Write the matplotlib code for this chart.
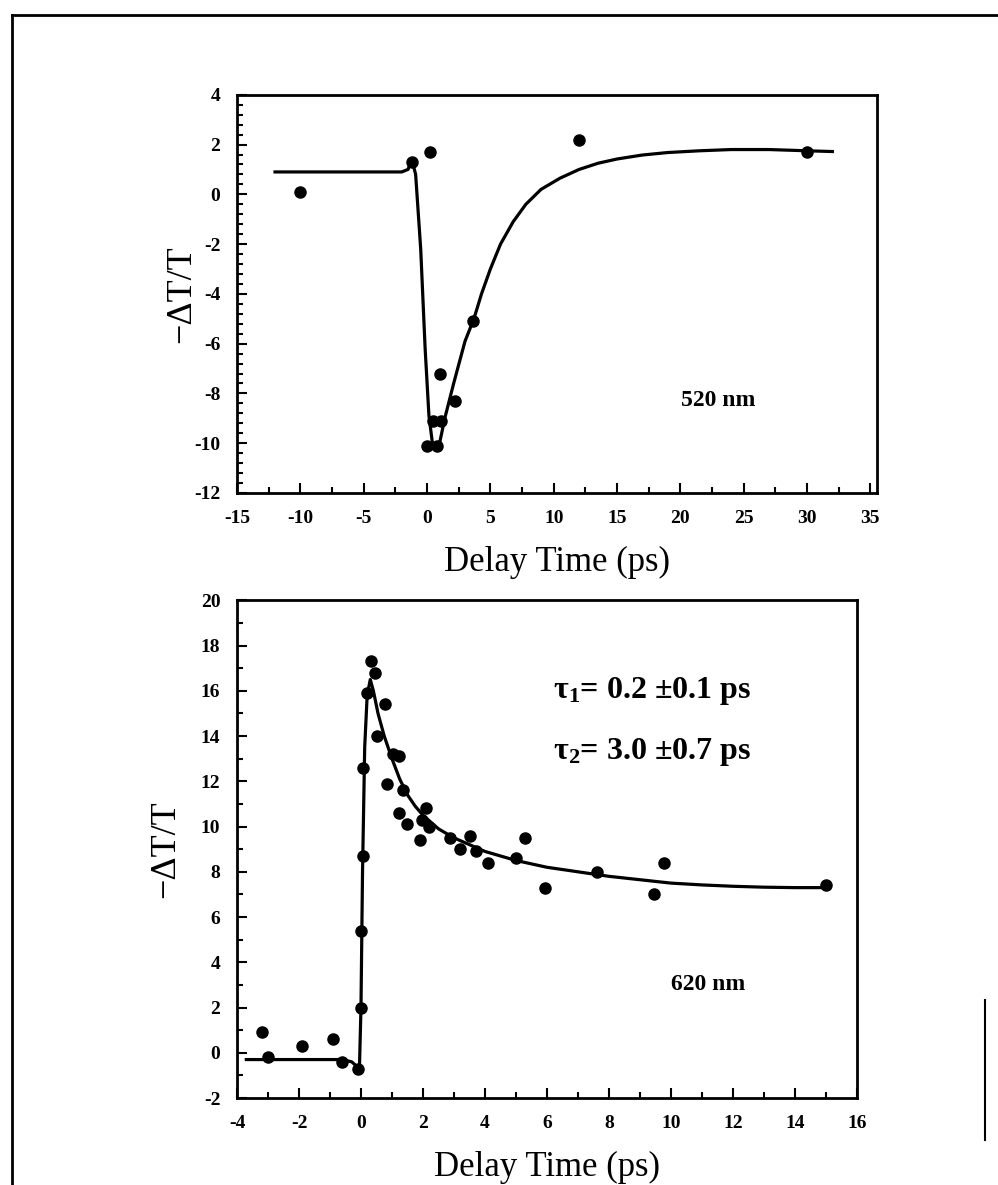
import matplotlib
matplotlib.use("Agg")
import matplotlib.pyplot as plt
from matplotlib.ticker import MultipleLocator
from matplotlib.lines import Line2D

# ---- 520 nm panel ----
pts520_x = [-10.0, -1.2, 0.2, 0.0, 0.8, 0.5, 1.1, 1.0, 2.2, 3.6, 12.0, 30.0]
pts520_y = [0.1, 1.3, 1.7, -10.1, -10.1, -9.1, -9.1, -7.2, -8.3, -5.1, 2.2, 1.7]
fit520_x = [-12.0, -2.0, -1.5, -1.2, -0.9, -0.5, -0.15, 0.15, 0.45, 0.95, 1.4, 2.1, 3.0,
            3.7, 4.3, 5.0, 5.8, 6.8, 7.8, 9.0, 10.5, 12.0, 13.5, 15.0, 17.0, 19.0,
            21.5, 24.0, 27.0, 30.0, 32.0]
fit520_y = [0.9, 0.9, 1.0, 1.4, 0.8, -2.2, -6.2, -8.9, -10.1, -10.1, -9.0, -7.6, -5.9,
            -5.0, -4.0, -3.0, -2.0, -1.1, -0.4, 0.2, 0.65, 1.0, 1.25, 1.42, 1.58, 1.68,
            1.75, 1.8, 1.8, 1.75, 1.72]

# ---- 620 nm panel ----
pts620_x = [-3.2, -3.0, -1.9, -0.9, -0.6, -0.1, 0.0, 0.0, 0.05, 0.05,
            0.33, 0.46, 0.2, 0.78, 0.52, 1.04, 1.24, 0.85, 1.37, 1.24, 2.09,
            1.5, 1.96, 2.2, 1.9, 2.87, 3.2, 3.52, 3.7, 4.1, 5.0, 5.28, 5.93,
            7.63, 9.45, 9.78, 15.0]
pts620_y = [0.9, -0.2, 0.3, 0.6, -0.4, -0.7, 2.0, 5.4, 8.7, 12.6,
            17.3, 16.8, 15.9, 15.4, 14.0, 13.2, 13.1, 11.9, 11.6, 10.6, 10.8,
            10.1, 10.3, 10.0, 9.4, 9.5, 9.0, 9.6, 8.9, 8.4, 8.6, 9.5, 7.3,
            8.0, 7.0, 8.4, 7.4]
fit620_x = [-3.7, -0.6, -0.3, -0.05, 0.0, 0.05, 0.12, 0.2, 0.3, 0.4, 0.55, 0.75, 1.0,
            1.25, 1.5, 1.75, 2.0, 2.5, 3.0, 3.5, 4.0, 5.0, 6.0, 7.0, 8.0, 9.0, 10.0,
            11.0, 12.0, 13.0, 14.0, 15.0]
fit620_y = [-0.3, -0.3, -0.4, -0.7, 2.0, 8.0, 13.5, 15.8, 16.5, 16.0, 15.0, 14.0, 13.0,
            12.1, 11.4, 10.9, 10.5, 9.9, 9.5, 9.2, 8.9, 8.5, 8.2, 8.0, 7.8, 7.65, 7.5,
            7.42, 7.36, 7.32, 7.3, 7.3]

plt.rcParams["font.family"] = ["Liberation Serif", "DejaVu Serif"]
plt.rcParams["axes.unicode_minus"] = False
plt.rcParams["mathtext.fontset"] = "custom"
plt.rcParams["mathtext.rm"] = "Liberation Serif:bold"
plt.rcParams["mathtext.it"] = "Liberation Serif:bold"
plt.rcParams["mathtext.bf"] = "Liberation Serif:bold"

fig = plt.figure(figsize=(9.98, 11.85), dpi=100)


def style(ax):
    for s in ax.spines.values():
        s.set_linewidth(2.0)
    ax.tick_params(which="both", direction="in", top=False, right=False, width=1.5)
    ax.tick_params(which="major", length=7, labelsize=14, pad=12)
    ax.tick_params(which="minor", length=4)
    for lab in ax.get_xticklabels() + ax.get_yticklabels():
        lab.set_fontweight("bold")


# top panel
ax1 = fig.add_axes([0.2375, 0.584, 0.641, 0.336])
ax1.plot(fit520_x, fit520_y, color="black", lw=2.3)
ax1.plot(pts520_x, pts520_y, "o", color="black", ms=8, ls="none")
ax1.set_xlim(-15, 35.5)
ax1.set_ylim(-12, 4)
ax1.xaxis.set_major_locator(MultipleLocator(5))
ax1.xaxis.set_minor_locator(MultipleLocator(2.5))
ax1.yaxis.set_major_locator(MultipleLocator(2))
ax1.yaxis.set_minor_locator(MultipleLocator(0.4))
ax1.set_xlabel("Delay Time (ps)", fontsize=25, labelpad=14)
ax1.set_ylabel("\u2212\u0394T/T", fontsize=26)
ax1.yaxis.set_label_coords(-0.06, 0.5)
ax1.text(23.0, -8.3, "520 nm", fontsize=17, fontweight="bold", ha="center", va="center")
style(ax1)

# bottom panel
ax2 = fig.add_axes([0.2375, 0.0734, 0.621, 0.42])
ax2.plot(fit620_x, fit620_y, color="black", lw=2.3)
ax2.plot(pts620_x, pts620_y, "o", color="black", ms=8, ls="none")
ax2.set_xlim(-4, 16)
ax2.set_ylim(-2, 20)
ax2.xaxis.set_major_locator(MultipleLocator(2))
ax2.xaxis.set_minor_locator(MultipleLocator(1))
ax2.yaxis.set_major_locator(MultipleLocator(2))
ax2.yaxis.set_minor_locator(MultipleLocator(1))
ax2.set_xlabel("Delay Time (ps)", fontsize=25, labelpad=14)
ax2.set_ylabel("\u2212\u0394T/T", fontsize=26)
ax2.yaxis.set_label_coords(-0.088, 0.5)
ax2.text(6.2, 16.0, "\u03c4$_1$= 0.2 \u00b10.1 ps", fontsize=23, fontweight="bold", va="center")
ax2.text(6.2, 13.3, "\u03c4$_2$= 3.0 \u00b10.7 ps", fontsize=23, fontweight="bold", va="center")
ax2.text(11.2, 3.0, "620 nm", fontsize=17, fontweight="bold", ha="center", va="center")
style(ax2)

# outer frame of the scanned page
fig.add_artist(Line2D([12 / 998, 12 / 998], [0, 1 - 15 / 1185], color="black", lw=2))
fig.add_artist(Line2D([12 / 998, 1], [1 - 15 / 1185, 1 - 15 / 1185], color="black", lw=2))
fig.add_artist(Line2D([985 / 998, 985 / 998], [1 - 1140 / 1185, 1 - 1000 / 1185], color="black", lw=1.5))

fig.savefig("out.png", dpi=100)
